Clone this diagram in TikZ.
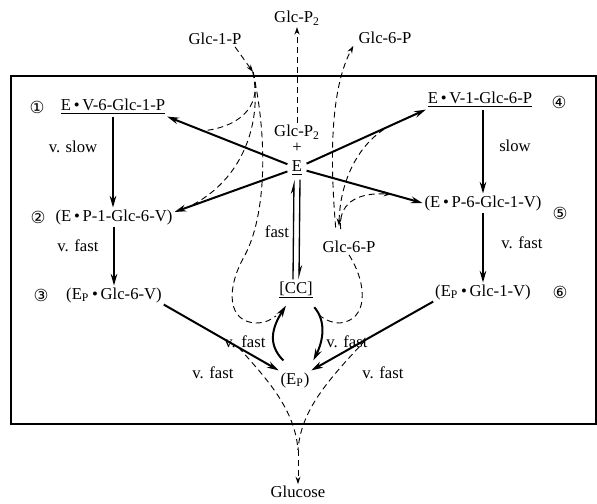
\documentclass[tikz,border=0pt]{standalone}
\usepackage{fontspec}
\setmainfont{Liberation Serif}
\newfontfamily\circfont{DejaVu Sans}
\usetikzlibrary{arrows.meta}
\tikzset{
  >={Stealth[length=7pt,width=4pt]},
  cplx/.style={inner sep=1pt,font=\normalsize},
  num/.style={inner sep=0pt,font=\circfont\normalsize},
  rate/.style={inner sep=1pt,font=\normalsize},
  flow/.style={->,line width=#1},
  flow/.default=1.2pt,
  dflow/.style={line width=0.55pt,dash pattern=on 3.6pt off 2.4pt},
  dtip/.style={-{Stealth[length=4.5pt,width=3pt]}},
  harp/.style={-{Stealth[harpoon,length=7pt,width=3.6pt]},line width=0.8pt},
  frame/.style={line width=0.8pt},
}

\begin{document}
\begin{tikzpicture}[x=0.6pt,y=-0.6pt]
  \useasboundingbox (0,0) rectangle (597,503);
  \draw[frame] (11,76) rectangle (596,424);

  % metabolites outside and inside the box
  \node[cplx] (g1p) at (215,39) {Glc-1-P};
  \node[cplx] (gp2) at (297,18) {Glc-P\textsubscript{2}};
  \node[cplx] (g6p) at (385,38) {Glc-6-P};
  \node[cplx] (glc) at (298,492) {Glucose};
  \node[cplx] (g6i) at (349,247) {Glc-6-P};

  % free enzyme, covalent complex, phosphoenzyme
  \node[cplx] (sub) at (297,132) {Glc-P\textsubscript{2}};
  \node[inner sep=0pt] (plus) at (297,148) {+};
  \node[cplx,inner sep=2.5pt] (E) at (297,168) {\underline{E}};
  \node[cplx] (CC) at (296,290) {\underline{[CC]}};
  \node[cplx] (Ep) at (295,380) {(E\textsubscript{P})};

  % complexes
  \node[cplx] (c1) at (113,107) {\underline{E\,•\,V-6-Glc-1-P}};
  \node[cplx] (c2) at (114,217) {(E\,•\,P-1-Glc-6-V)};
  \node[cplx] (c3) at (114,295) {(E\textsubscript{P}\,•\,Glc-6-V)};
  \node[cplx] (c4) at (480,100) {\underline{E\,•\,V-1-Glc-6-P}};
  \node[cplx] (c5) at (483,203) {(E\,•\,P-6-Glc-1-V)};
  \node[cplx] (c6) at (483,292) {(E\textsubscript{P}\,•\,Glc-1-V)};

  \foreach \g/\x/\y [count=\k] in {①/37/107,②/38/217,③/41/295,④/559/102,⑤/560/213,⑥/560/292}
    \node[num] (n\k) at (\x,\y) {\g};

  \foreach \t/\x/\y [count=\k] in {v. slow/73/147,v. fast/78/246,slow/515/146,v. fast/522/243,
      v. fast/245/342,v. fast/347/342,v. fast/213/373,v. fast/383/373}
    \node[rate] (r\k) at (\x,\y) {\t};
  \node[rate] (rf) at (277,232) {fast};

  % solid arrows
  \draw[flow] (E) -- coordinate[pos=0.7] (m1) (c1.south east);
  \draw[flow] (E) -- coordinate[pos=0.88] (m2) ([yshift=3pt]c2.east);
  \draw[flow] (E) -- coordinate[pos=0.8] (m4) (c4.south west);
  \draw[flow] (E) -- coordinate[pos=0.73] (m5) (c5.west);
  \draw[flow=0.8pt] (c1.south) -- (c1.south |- c2.north);
  \draw[flow=0.8pt] (c2.south) -- (c2.south |- c3.north);
  \draw[flow=0.8pt] (c4.south -| c5.north) -- (c5.north);
  \draw[flow=0.8pt] (c5.south) -- (c5.south |- c6.north);
  \draw[flow] (c3.south east) -- coordinate[pos=0.65] (m3) (Ep.north west);
  \draw[flow] (c6.south west) -- coordinate[pos=0.55] (m6) (Ep.north east);
  \draw[flow] ([xshift=-7pt,yshift=6pt]Ep.north) .. controls +(-16,-16) and +(-14,22) .. ([xshift=-6pt,yshift=-3pt]CC.south);
  \draw[flow] ([xshift=11pt,yshift=-4pt]CC.south) .. controls +(12,14) and +(10,-20) .. ([xshift=11pt,yshift=6pt]Ep.north);
  \draw[harp] ([xshift=-1.8pt]CC.north) -- ([xshift=-1.8pt]E.south);
  \draw[harp] ([xshift=1.8pt]E.south) -- ([xshift=1.8pt]CC.north);

  % dashed metabolite flows
  \coordinate (j1) at (253,72);
  \coordinate (k1) at (276,316);
  \coordinate (k2) at (317,313);
  \coordinate (jg) at (298,450);
  \draw[dflow,dtip] ([xshift=-5pt]g1p.south east) -- (j1);
  \draw[dflow] (j1) .. controls (262,102) and (245,126) .. (m1);
  \draw[dflow] (j1) .. controls (262,120) and (245,180) .. (m2);
  \draw[dflow] (j1) .. controls (268,140) and (266,215) .. (245,255)
    .. controls (225,290) and (228,322) .. (256,323) .. controls (266,323) and (272,319) .. (k1);
  \draw[dflow,dtip] (sub.north) -- (gp2.south);
  \draw[dflow,dtip] ([xshift=-8pt,yshift=7pt]g6i.north) .. controls (330,160) and (330,90) .. ([xshift=-2pt]g6p.south west);
  \draw[dflow,dtip] (m4) .. controls (360,135) and (340,180) .. ([xshift=-6pt,yshift=8pt]g6i.north);
  \draw[dflow,dtip] ([xshift=-5pt,yshift=6pt]g6i.north) .. controls (338,205) and (355,192) .. (m5);
  \draw[dflow] (g6i.south) .. controls (368,285) and (368,320) .. (340,323) .. controls (330,323) and (322,318) .. (k2);
  \draw[dflow] (m3) .. controls (268,380) and (295,410) .. (jg);
  \draw[dflow] (m6) .. controls (328,380) and (301,410) .. (jg);
  \draw[dflow,dtip] (jg) -- (glc.north);
\end{tikzpicture}
\end{document}
